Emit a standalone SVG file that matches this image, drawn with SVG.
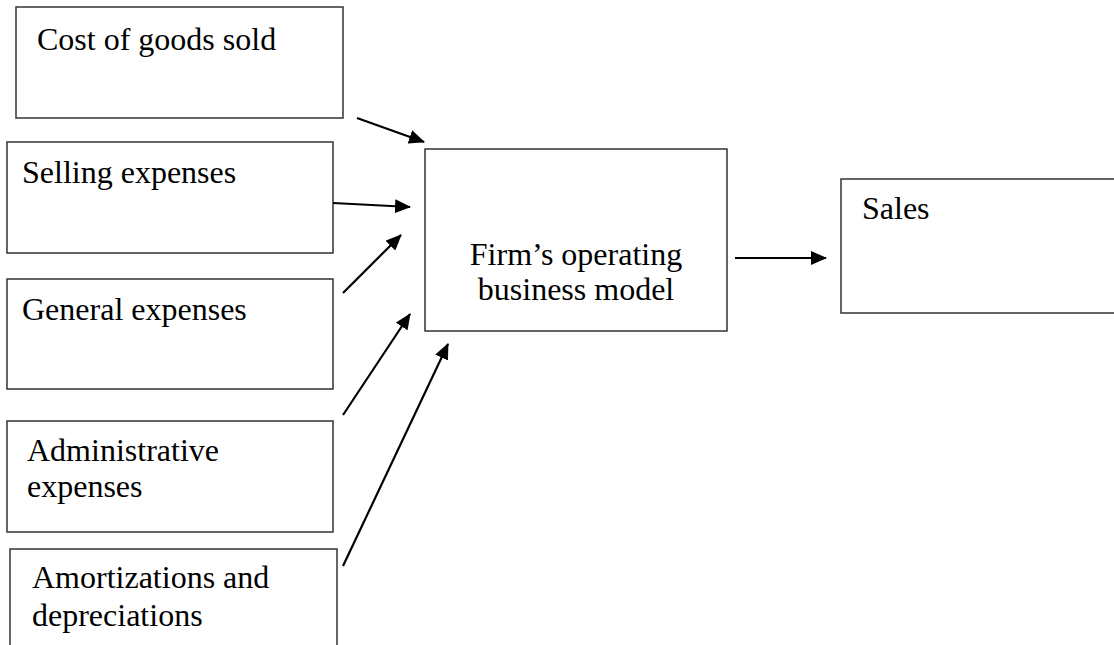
<svg xmlns="http://www.w3.org/2000/svg" width="1114" height="645" viewBox="0 0 1114 645">
<style>
rect{fill:#fff;stroke:#333;stroke-width:1.5}
text{font-family:"Liberation Serif","Times New Roman",serif;font-size:32px;fill:#000}
.c line{stroke:#000;stroke-width:2.2}
</style>
<defs>
<marker id="ah" markerWidth="16" markerHeight="14" refX="15" refY="7" orient="auto" markerUnits="userSpaceOnUse" viewBox="0 0 16 14">
<path d="M0,0 L16,7 L0,14 z" fill="#000"/>
</marker>
</defs>
<rect x="0" y="0" width="1114" height="645" style="stroke:none"/>
<g id="cogs"><rect x="16" y="7" width="327" height="111"/><text x="37" y="50">Cost of goods sold</text></g>
<g id="selling"><rect x="7" y="142" width="326" height="111"/><text x="22" y="183">Selling expenses</text></g>
<g id="general"><rect x="7" y="279" width="326" height="110"/><text x="22" y="320">General expenses</text></g>
<g id="admin"><rect x="7" y="421" width="326" height="111"/><text x="27" y="461">Administrative</text><text x="27" y="497">expenses</text></g>
<g id="amort"><rect x="10" y="549" width="327" height="110"/><text x="32" y="588">Amortizations and</text><text x="32" y="626">depreciations</text></g>
<g id="firm"><rect x="425" y="149" width="302" height="182"/><text x="576" y="265" text-anchor="middle">Firm’s operating</text><text x="576" y="300" text-anchor="middle">business model</text></g>
<g id="sales"><rect x="841" y="179" width="290" height="134"/><text x="862" y="219">Sales</text></g>
<g class="c" id="connectors">
<line x1="357" y1="118" x2="424" y2="142" marker-end="url(#ah)"/>
<line x1="333" y1="203" x2="410" y2="207" marker-end="url(#ah)"/>
<line x1="343" y1="293" x2="401" y2="235" marker-end="url(#ah)"/>
<line x1="343" y1="415" x2="410" y2="314" marker-end="url(#ah)"/>
<line x1="343" y1="566" x2="448" y2="344" marker-end="url(#ah)"/>
<line x1="735" y1="258" x2="826" y2="258" marker-end="url(#ah)"/>
</g>
</svg>
